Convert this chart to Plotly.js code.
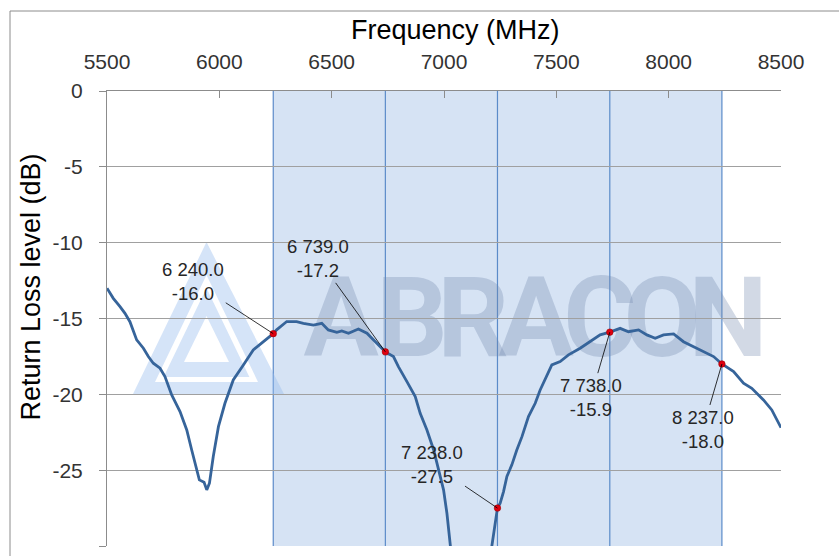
<!DOCTYPE html>
<html>
<head>
<meta charset="utf-8">
<script src="https://cdn.plot.ly/plotly-3.0.1.min.js"></script>
<style>html,body{margin:0;padding:0;background:#fff;}#chart{width:839px;height:556px;}</style>
</head>
<body>
<div id="chart"></div>
<script>
// ---- data ----
const freqMHz = [5500,5528,5558,5580,5602,5632,5662,5684,5706,5736,5758,5788,5825,5855,5877,5899,5911,5932,5944,5956,5973,5996,6025,6062,6085,6107,6151,6196,6240,6255,6300,6344,6374,6419,6456,6485,6523,6545,6575,6619,6657,6701,6739,6775,6797,6835,6872,6894,6924,6954,6976,6998,7013,7027,7050,7120,7190,7213,7238,7250,7265,7280,7302,7324,7347,7376,7406,7428,7458,7480,7517,7554,7606,7651,7695,7738,7784,7821,7866,7903,7940,7977,8022,8066,8111,8155,8200,8237,8289,8333,8370,8422,8459,8500];
const returnLoss = [-13.0,-13.67,-14.22,-14.66,-15.21,-16.41,-16.96,-17.51,-17.95,-18.28,-18.83,-20.04,-21.14,-22.35,-23.67,-24.98,-25.64,-25.8,-26.3,-25.86,-24.1,-22.13,-20.59,-19.05,-18.5,-18.06,-17.07,-16.53,-16.0,-15.75,-15.2,-15.2,-15.32,-15.43,-15.32,-15.75,-15.91,-15.82,-15.97,-15.69,-15.97,-16.63,-17.2,-17.51,-18.17,-19.16,-20.15,-21.25,-22.35,-23.67,-24.98,-26.3,-27.84,-30.04,-33,-38,-33,-30.0,-27.5,-27.18,-26.41,-25.42,-24.65,-23.67,-22.79,-21.47,-20.59,-19.71,-18.72,-18.06,-17.84,-17.4,-16.96,-16.53,-16.08,-15.9,-15.65,-15.87,-15.75,-16.08,-16.3,-16.08,-16.02,-16.53,-16.85,-17.18,-17.51,-18.0,-18.5,-19.27,-19.6,-20.37,-21.03,-22.2];
const markerFreq = [6240, 6739, 7238, 7738, 8237];
const markerLoss = [-16.0, -17.2, -27.5, -15.9, -18.0];
const xTicks = [5500, 6000, 6500, 7000, 7500, 8000, 8500];
const yTicks = [0, -5, -10, -15, -20, -25, -30];
const xTitle = 'Frequency (MHz)';
const yTitle = 'Return Loss level (dB)';
const watermark = 'ABRACON';

// ---- layout helpers (pixel -> axis / paper) ----
const L = 107, R = 781, T = 91, B = 546;
function DX(px){ return 5500 + (px - L) * 3000 / (R - L); }
function DY(py){ return -(py - T) * 30 / (B - T); }
function D(px, py){ return DX(px).toFixed(2) + ',' + DY(py).toFixed(3); }
function PX(px){ return (px - L) / (R - L); }
function PY(py){ return (B - py) / (B - T); }
function fmt(f){ const s = f.toFixed(1); const p = s.split('.'); return p[0].replace(/\B(?=(\d{3})+(?!\d))/g, ' ') + '.' + p[1]; }

const FONT = 'Liberation Sans, Arial, sans-serif';
const bandBlue = '#5B8BC9';

const shapes = [];
// shaded band
shapes.push({type:'rect', xref:'x', yref:'paper', x0: markerFreq[0], x1: markerFreq[markerFreq.length-1], y0:0, y1:1,
  fillcolor:'#D6E3F4', line:{width:0}, layer:'below'});
// logo
const logoColor = 'rgba(150,188,238,0.40)';
shapes.push({type:'path', xref:'x', yref:'y', layer:'below', fillcolor:logoColor, line:{width:0},
  path:'M'+D(206.5,242)+' L'+D(133,394)+' L'+D(284,394)+' Z M'+D(206.5,275)+' L'+D(258,382)+' L'+D(155,382)+' Z'});
shapes.push({type:'path', xref:'x', yref:'y', layer:'below', fillcolor:logoColor, line:{width:0},
  path:'M'+D(206.5,288)+' L'+D(163.6,377)+' L'+D(249.4,377)+' Z M'+D(206.5,316)+' L'+D(229,362)+' L'+D(184,362)+' Z'});
// watermark text, one letter per slot
const letterCenters = [341, 412, 473, 536, 600, 662, 728];
watermark.split('').forEach(function(ch, i){
  const cx = letterCenters[i];
  shapes.push({type:'rect', xref:'x', yref:'y', layer:'below', x0:DX(cx-40), x1:DX(cx+40), y0:DY(250), y1:DY(368),
    fillcolor:'rgba(0,0,0,0)', line:{width:0},
    label:{text:ch, textposition:'middle center',
      font:{family:'Roboto, Liberation Sans, sans-serif', size:112, weight:'bold', color:'rgba(115,138,175,0.32)'}}});
});
// vertical lines at marker frequencies
markerFreq.forEach(function(f){
  shapes.push({type:'line', xref:'x', yref:'paper', x0:f, x1:f, y0:0, y1:1, layer:'below', line:{color:bandBlue, width:1.2}});
});
// outer frame
shapes.push({type:'rect', xref:'paper', yref:'paper', x0:PX(10), x1:PX(900), y0:PY(620), y1:PY(11),
  fillcolor:'rgba(0,0,0,0)', line:{color:'#8C8C8C', width:1}, layer:'above'});

// marker annotations (text offsets in pixels)
const offs = [[-80,-52],[-67,-93],[-65,-44],[-19,65],[-19,65]];
const annotations = markerFreq.map(function(f,i){
  return {x:f, y:markerLoss[i], xref:'x', yref:'y', text: fmt(f) + '<br>' + markerLoss[i].toFixed(1),
    showarrow:true, arrowhead:0, arrowwidth:0.8, arrowcolor:'#000', ax:offs[i][0], ay:offs[i][1],
    font:{family:FONT, size:18.5, color:'#262626'}, align:'center'};
});
annotations.push({xref:'paper', yref:'paper', x:PX(455.5), y:PY(30), xanchor:'center', yanchor:'middle', showarrow:false,
  text:xTitle, font:{family:FONT, size:27, color:'#000'}});
annotations.push({xref:'paper', yref:'paper', x:PX(30), y:PY(287.5), xanchor:'center', yanchor:'middle', showarrow:false,
  textangle:-90, text:yTitle, font:{family:FONT, size:27, color:'#000'}});

const traces = [
  {x:freqMHz, y:returnLoss, type:'scatter', mode:'lines', line:{color:'#36649A', width:2.8}, hoverinfo:'skip', showlegend:false},
  {x:markerFreq, y:markerLoss, type:'scatter', mode:'markers', marker:{color:'#E00010', size:6.5, line:{color:'#A00000', width:0.6}}, showlegend:false, cliponaxis:false}
];

const layout = {
  width:839, height:556,
  margin:{l:L, r:839-R, t:T, b:556-B, pad:0},
  paper_bgcolor:'#fff', plot_bgcolor:'rgba(0,0,0,0)',
  showlegend:false,
  font:{family:FONT, color:'#333'},
  xaxis:{side:'top', range:[5500,8500], tickvals:xTicks, ticktext:xTicks.map(String),
    showgrid:false, zeroline:false, showline:true, linecolor:'#8C8C8C', linewidth:1,
    ticks:'inside', ticklen:7, tickcolor:'#8C8C8C', tickfont:{family:FONT, size:21, color:'#333'}, ticklabelstandoff:13},
  yaxis:{range:[-30,0], tickvals:yTicks, ticktext:yTicks.map(String),
    showgrid:true, gridcolor:'#A0A0A0', gridwidth:1.2, zeroline:false, showline:true, linecolor:'#8C8C8C', linewidth:1,
    ticks:'outside', ticklen:7, tickcolor:'#8C8C8C', tickfont:{family:FONT, size:21, color:'#333'}, ticklabelstandoff:12},
  shapes:shapes,
  annotations:annotations
};

Plotly.newPlot('chart', traces, layout, {staticPlot:true, displayModeBar:false});
</script>
</body>
</html>
